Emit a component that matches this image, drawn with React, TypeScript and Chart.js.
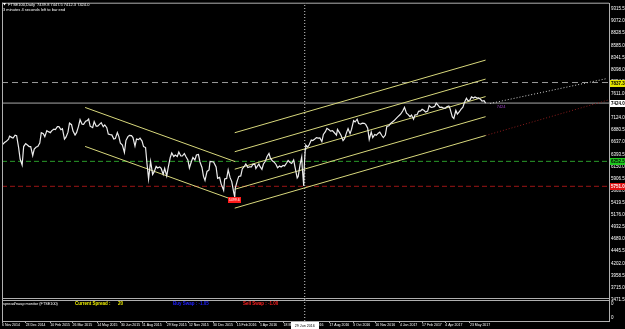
import React, { useEffect, useRef } from 'react';
import { Chart, registerables } from 'chart.js';
Chart.register(...registerables);

// ---------- data ----------
const priceDates: string[] = [
  '2014-11-06','2014-11-11','2014-11-14','2014-11-19','2014-11-21','2014-11-26','2014-11-28',
  '2014-12-02','2014-12-05','2014-12-09','2014-12-12','2014-12-16','2014-12-19','2014-12-23','2014-12-30',
  '2015-01-02','2015-01-06','2015-01-09','2015-01-13','2015-01-16','2015-01-20','2015-01-23','2015-01-27','2015-01-30',
  '2015-02-03','2015-02-06','2015-02-10','2015-02-13','2015-02-17','2015-02-20','2015-02-24','2015-02-27',
  '2015-03-03','2015-03-06','2015-03-10','2015-03-13','2015-03-17','2015-03-20','2015-03-24','2015-03-27','2015-03-31',
  '2015-04-03','2015-04-07','2015-04-10','2015-04-14','2015-04-17','2015-04-21','2015-04-24','2015-04-27','2015-04-30',
  '2015-05-05','2015-05-08','2015-05-12','2015-05-15','2015-05-19','2015-05-22','2015-05-26','2015-05-29',
  '2015-06-02','2015-06-05','2015-06-09','2015-06-12','2015-06-16','2015-06-19','2015-06-23','2015-06-26','2015-06-29',
  '2015-07-03','2015-07-07','2015-07-10','2015-07-14','2015-07-17','2015-07-21','2015-07-24','2015-07-28','2015-07-31',
  '2015-08-04','2015-08-07','2015-08-11','2015-08-14','2015-08-18','2015-08-21','2015-08-24','2015-08-26','2015-08-28',
  '2015-09-01','2015-09-04','2015-09-08','2015-09-11','2015-09-15','2015-09-18','2015-09-22','2015-09-25','2015-09-29',
  '2015-10-02','2015-10-06','2015-10-09','2015-10-13','2015-10-16','2015-10-20','2015-10-23','2015-10-27','2015-10-30',
  '2015-11-03','2015-11-06','2015-11-10','2015-11-13','2015-11-17','2015-11-20','2015-11-24','2015-11-27',
  '2015-12-01','2015-12-04','2015-12-08','2015-12-11','2015-12-14','2015-12-18','2015-12-22','2015-12-24','2015-12-31',
  '2016-01-05','2016-01-08','2016-01-12','2016-01-15','2016-01-20','2016-01-22','2016-01-26','2016-01-29',
  '2016-02-02','2016-02-05','2016-02-09','2016-02-11','2016-02-12','2016-02-16','2016-02-19','2016-02-23','2016-02-26',
  '2016-03-01','2016-03-04','2016-03-08','2016-03-11','2016-03-15','2016-03-18','2016-03-22','2016-03-24','2016-03-30',
  '2016-04-01','2016-04-05','2016-04-08','2016-04-12','2016-04-15','2016-04-19','2016-04-22','2016-04-26','2016-04-29',
  '2016-05-03','2016-05-06','2016-05-10','2016-05-13','2016-05-17','2016-05-20','2016-05-24','2016-05-27','2016-05-31',
  '2016-06-03','2016-06-07','2016-06-10','2016-06-14','2016-06-16','2016-06-20','2016-06-23','2016-06-24','2016-06-27','2016-06-28','2016-06-30',
  '2016-07-01','2016-07-05','2016-07-08','2016-07-12','2016-07-15','2016-07-19','2016-07-22','2016-07-26','2016-07-29',
  '2016-08-02','2016-08-05','2016-08-09','2016-08-12','2016-08-16','2016-08-19','2016-08-23','2016-08-26','2016-08-31',
  '2016-09-02','2016-09-06','2016-09-09','2016-09-13','2016-09-16','2016-09-20','2016-09-23','2016-09-27','2016-09-30',
  '2016-10-04','2016-10-07','2016-10-11','2016-10-14','2016-10-18','2016-10-21','2016-10-25','2016-10-28',
  '2016-11-01','2016-11-04','2016-11-08','2016-11-11','2016-11-15','2016-11-18','2016-11-22','2016-11-25','2016-11-29',
  '2016-12-02','2016-12-06','2016-12-09','2016-12-13','2016-12-16','2016-12-20','2016-12-23','2016-12-30',
  '2017-01-04','2017-01-06','2017-01-10','2017-01-13','2017-01-17','2017-01-20','2017-01-24','2017-01-27','2017-01-31',
  '2017-02-03','2017-02-07','2017-02-10','2017-02-14','2017-02-17','2017-02-21','2017-02-24','2017-02-28',
  '2017-03-03','2017-03-07','2017-03-10','2017-03-14','2017-03-17','2017-03-21','2017-03-24','2017-03-28','2017-03-31',
  '2017-04-04','2017-04-07','2017-04-11','2017-04-13','2017-04-18','2017-04-21','2017-04-25','2017-04-28',
  '2017-05-02','2017-05-05','2017-05-09','2017-05-12','2017-05-16','2017-05-19','2017-05-23','2017-05-26','2017-05-30',
  '2017-06-02','2017-06-06','2017-06-09','2017-06-13','2017-06-16','2017-06-20','2017-06-23',
];
const priceCloses: number[] = [
  6580, 6630, 6650, 6700, 6760, 6730, 6720,
  6780, 6770, 6530, 6300, 6180, 6550, 6610, 6550,
  6550, 6370, 6500, 6540, 6550, 6620, 6830, 6810, 6750,
  6870, 6850, 6830, 6870, 6900, 6890, 6950, 6950,
  6890, 6910, 6700, 6740, 6840, 7020, 6990, 6860, 6780,
  6830, 6960, 7090, 7000, 6995, 7060, 7070, 7104, 6960,
  6930, 7050, 6960, 6960, 7000, 7030, 6950, 6985,
  6930, 6800, 6790, 6785, 6700, 6710, 6830, 6750, 6620,
  6580, 6430, 6670, 6750, 6775, 6770, 6730, 6560, 6700,
  6690, 6720, 6660, 6550, 6530, 6190, 5900, 6080, 6250,
  5990, 6040, 6150, 6120, 6140, 6110, 5990, 6110, 5960,
  6130, 6330, 6420, 6350, 6380, 6350, 6440, 6360, 6360,
  6410, 6350, 6280, 6120, 6250, 6330, 6280, 6380,
  6390, 6240, 6130, 5950, 5870, 6050, 6080, 6250, 6240,
  6140, 5910, 5930, 5800, 5670, 5900, 5910, 6080,
  5920, 5850, 5630, 5537, 5710, 5860, 5950, 5960, 6100,
  6150, 6200, 6130, 6140, 6140, 6190, 6190, 6110, 6200,
  6150, 6090, 6200, 6260, 6345, 6410, 6310, 6260, 6240,
  6190, 6125, 6160, 6140, 6170, 6160, 6220, 6270, 6230,
  6210, 6280, 6120, 5920, 5950, 6200, 6340, 6140, 5760, 6140, 6500,
  6577, 6540, 6590, 6680, 6670, 6700, 6730, 6720, 6724,
  6650, 6793, 6850, 6916, 6890, 6859, 6870, 6838, 6780,
  6895, 6830, 6777, 6670, 6710, 6830, 6910, 6810, 6899,
  7070, 7044, 7100, 7014, 7000, 7020, 7017, 6996,
  6917, 6693, 6843, 6730, 6792, 6775, 6819, 6840, 6772,
  6730, 6780, 6954, 6968, 7011, 7043, 7068, 7142,
  7190, 7210, 7275, 7338, 7220, 7198, 7150, 7184, 7099,
  7188, 7190, 7258, 7268, 7299, 7275, 7243, 7263,
  7374, 7338, 7343, 7357, 7425, 7378, 7336, 7343, 7323,
  7321, 7349, 7365, 7328, 7147, 7114, 7275, 7204,
  7250, 7298, 7342, 7435, 7522, 7471, 7485, 7548, 7526,
  7547, 7525, 7527, 7500, 7464, 7472, 7424,
];

const yTickValues: number[] = [
  9315.5, 9072.0, 8828.5, 8585.0, 8341.5, 8098.0, 7854.5, 7611.0, 7367.5, 7124.0,
  6880.5, 6637.0, 6393.5, 6150.0, 5906.5, 5663.0, 5419.5, 5176.0, 4932.5, 4689.0,
  4445.5, 4202.0, 3958.5, 3715.0, 3471.5,
];
const xTickDates: string[] = [
  '2014-11-06','2014-12-23','2015-02-10','2015-03-26','2015-05-14','2015-06-30','2015-08-11',
  '2015-09-29','2015-11-12','2015-12-30','2016-02-15','2016-04-01','2016-05-18','2016-07-04',
  '2016-08-17','2016-10-03','2016-11-16','2017-01-04','2017-02-17','2017-04-04','2017-05-23',
];
const xTickLabels: string[] = [
  '6 Nov 2014','23 Dec 2014','10 Feb 2015','26 Mar 2015','14 May 2015','30 Jun 2015','11 Aug 2015',
  '29 Sep 2015','12 Nov 2015','30 Dec 2015','15 Feb 2016','1 Apr 2016','18 May 2016','4 Jul 2016',
  '17 Aug 2016','3 Oct 2016','16 Nov 2016','4 Jan 2017','17 Feb 2017','4 Apr 2017','23 May 2017',
];

// channel objects (anchor dates and prices)
const downChannelDates = ['2015-04-20', '2016-02-12'];
const downUpper = [7336, 6247];
const downLower = [6553, 5464];
const upChannelDates = ['2016-02-11', '2017-06-23'];
const upLine1 = [6828, 8288];
const upLine2 = [6446, 7906];
const upLine3 = [6095, 7555];
const upLine4 = [5691, 7151];
const upLine5 = [5312, 6772];
const redRayDates = ['2017-06-23', '2018-02-23'];
const redRay = [6772, 7490];
const whiteRayDates = ['2017-07-02', '2018-02-19'];
const whiteRay = [7416, 7918];

// horizontal levels
const grayLevel = 7837.3;
const bidLevel = 7424.0;
const greenLevel = 6252.5;
const redLevel = 5751.0;
const crossDate = '2016-06-29';
const lowDate = '2016-02-11';
const lowValue = 5537;

const titleText = 'FTSE100,Daily  7439.8 7447.5 7412.3 7424.0';
const timerText = '3 minutes 4 seconds left to bar end';

// ---------- helpers ----------
const ORIGIN = Date.UTC(2014, 10, 6);
const dayOf = (s: string) => {
  const [y, m, d] = s.split('-').map(Number);
  return (Date.UTC(y, m - 1, d) - ORIGIN) / 86400000;
};
const X_MIN = 0;
const X_MAX = 1205;
const Y_MIN = 3043;
const Y_MAX = 9422;
const FONT = "'Liberation Sans', 'DejaVu Sans', sans-serif";

const seg = (dates: string[], vals: number[]) => dates.map((d, i) => ({ x: dayOf(d), y: vals[i] }));
const hline = (v: number) => [{ x: X_MIN, y: v }, { x: X_MAX, y: v }];
const ds = (data: any[], color: string, dash: number[] = [], width = 1) => ({
  data,
  borderColor: color,
  borderWidth: width,
  borderDash: dash,
  pointRadius: 0,
  pointHoverRadius: 0,
  fill: false,
  tension: 0,
});

const CH = '#d8d87c';

const mtPlugin = {
  id: 'mt4look',
  beforeDraw(chart: any) {
    const c = chart.ctx;
    c.save();
    c.fillStyle = '#000';
    c.fillRect(0, 0, chart.width, chart.height);
    c.restore();
  },
  afterDraw(chart: any) {
    const c = chart.ctx;
    const xs = chart.scales.x;
    const ys = chart.scales.y;
    const a = chart.chartArea;
    c.save();
    // frame
    c.strokeStyle = '#b0b0b0';
    c.lineWidth = 1;
    c.beginPath();
    c.moveTo(a.left + 0.5, a.top - 1);
    c.lineTo(a.left + 0.5, a.bottom);
    c.moveTo(a.left, a.top - 0.5);
    c.lineTo(a.right, a.top - 0.5);
    c.moveTo(a.left, 298.5);
    c.lineTo(a.right, 298.5);
    c.moveTo(a.left, 300.5);
    c.lineTo(a.right, 300.5);
    c.stroke();

    // right axis tags
    const tag = (value: number, bg: string, fg: string) => {
      const py = Math.round(ys.getPixelForValue(value));
      c.fillStyle = bg;
      c.fillRect(a.right + 1, py - 3, 16, 7);
      c.fillStyle = fg;
      c.font = `bold 4.5px ${FONT}`;
      c.textBaseline = 'middle';
      c.textAlign = 'left';
      c.fillText(value.toFixed(1), a.right + 2, py + 0.5);
    };
    tag(grayLevel, '#e6e600', '#000');
    tag(bidLevel, '#ffffff', '#000');
    tag(greenLevel, '#1ec81e', '#000');
    tag(redLevel, '#e01010', '#ffffff');

    // sub-window axis labels
    c.fillStyle = '#ffffff';
    c.font = `4.5px ${FONT}`;
    c.textBaseline = 'middle';
    c.fillText('0', a.right + 2, 303.5);
    c.fillText('0', a.right + 2, 317.5);

    // low marker
    const lx = xs.getPixelForValue(dayOf(lowDate));
    const ly = ys.getPixelForValue(lowValue);
    c.fillStyle = '#ff1a1a';
    c.fillRect(Math.round(lx - 7), Math.round(ly), 13, 6);
    c.fillStyle = '#ffffff';
    c.font = `3.5px ${FONT}`;
    c.textAlign = 'center';
    c.fillText('5499.6', lx - 0.5, ly + 3.2);

    // small purple note near last bar
    c.fillStyle = '#a040c8';
    c.font = `4px ${FONT}`;
    c.textAlign = 'left';
    c.fillText('7424', xs.getPixelForValue(dayOf('2017-07-15')), ys.getPixelForValue(bidLevel) + 3.5);

    // crosshair date box
    const vx = xs.getPixelForValue(dayOf(crossDate));
    c.fillStyle = '#ffffff';
    c.fillRect(Math.round(vx - 14), a.bottom + 1, 28, 7);
    c.fillStyle = '#000';
    c.font = `3.6px ${FONT}`;
    c.textAlign = 'center';
    c.fillText('29 Jun 2016', vx, a.bottom + 4.8);

    // header texts
    c.textAlign = 'left';
    c.fillStyle = '#ffffff';
    c.font = `4px ${FONT}`;
    c.beginPath();
    c.moveTo(3, 3);
    c.lineTo(6, 3);
    c.lineTo(4.5, 5.5);
    c.closePath();
    c.fill();
    c.fillText(titleText, 8, 4.5);
    c.fillText(timerText, 3, 9.5);

    // indicator sub-window texts
    c.font = `3.8px ${FONT}`;
    c.fillStyle = '#ffffff';
    c.fillText('spread/swap monitor (FTSE100)', 3, 304);
    c.font = `bold 4.5px ${FONT}`;
    c.fillStyle = '#f0f000';
    c.fillText('Current Spread :', 75, 304);
    c.fillText('20', 118, 304);
    c.fillStyle = '#2020ff';
    c.fillText('Buy Swap : -1.05', 173, 304);
    c.fillStyle = '#ff2020';
    c.fillText('Sell Swap : -1.00', 243, 304);
    c.restore();
  },
};

export default function App() {
  const ref = useRef<HTMLCanvasElement>(null);
  useEffect(() => {
    const canvas = ref.current;
    if (!canvas) return;
    const priceData = priceDates.map((d, i) => ({ x: dayOf(d), y: priceCloses[i] }));
    const cx = dayOf(crossDate);
    const chart = new Chart(canvas, {
      type: 'line',
      data: {
        datasets: [
          ds(priceData, '#ececec', [], 1.2),
          ds(seg(downChannelDates, downUpper), CH),
          ds(seg(downChannelDates, downLower), CH),
          ds(seg(upChannelDates, upLine1), CH),
          ds(seg(upChannelDates, upLine2), CH),
          ds(seg(upChannelDates, upLine3), CH),
          ds(seg(upChannelDates, upLine4), CH),
          ds(seg(upChannelDates, upLine5), CH),
          ds(seg(whiteRayDates, whiteRay), '#d0d0d0', [1, 2]),
          ds(seg(redRayDates, redRay), '#8a1c1c', [1, 2]),
          ds([{ x: cx, y: Y_MIN }, { x: cx, y: Y_MAX }], '#d0d0d0', [1, 2]),
          ds(hline(grayLevel), '#9a9a9a', [6, 4]),
          ds(hline(bidLevel), '#a8a8a8'),
          ds(hline(greenLevel), '#2a9a2a', [5, 3]),
          ds(hline(redLevel), '#9a1414', [5, 3]),
        ] as any,
      },
      options: {
        responsive: false,
        animation: false,
        devicePixelRatio: 1,
        layout: { padding: { left: 2, top: 3, right: 0, bottom: 0 } },
        plugins: { legend: { display: false }, tooltip: { enabled: false } },
        events: [],
        scales: {
          x: {
            type: 'linear',
            min: X_MIN,
            max: X_MAX,
            position: 'bottom',
            afterBuildTicks: (s: any) => {
              s.ticks = xTickDates.map((d) => ({ value: dayOf(d) }));
            },
            afterFit: (s: any) => {
              s.height = 8;
            },
            ticks: {
              autoSkip: false,
              maxRotation: 0,
              minRotation: 0,
              align: 'start',
              padding: 0,
              color: '#ffffff',
              font: { family: FONT, size: 3.5 },
              callback: (_v: any, i: number) => xTickLabels[i],
            },
            grid: { drawOnChartArea: false, drawTicks: true, tickLength: 2, color: '#b0b0b0' },
            border: { display: true, color: '#b0b0b0' },
          },
          y: {
            type: 'linear',
            min: Y_MIN,
            max: Y_MAX,
            position: 'right',
            afterBuildTicks: (s: any) => {
              s.ticks = yTickValues.map((v) => ({ value: v }));
            },
            afterFit: (s: any) => {
              s.width = 16;
            },
            ticks: {
              autoSkip: false,
              padding: 1,
              crossAlign: 'near',
              color: '#ffffff',
              font: { family: FONT, size: 4.5 },
              callback: (v: any) => Number(v).toFixed(1),
            },
            grid: { drawOnChartArea: false, drawTicks: true, tickLength: 1, color: '#b0b0b0' },
            border: { display: true, color: '#b0b0b0' },
          },
        },
      } as any,
      plugins: [mtPlugin],
    });
    return () => chart.destroy();
  }, []);
  return (
    <div style={{ position: 'fixed', left: 0, top: 0, width: 625, height: 329, background: '#000' }}>
      <canvas ref={ref} width={625} height={329} style={{ display: 'block', width: 625, height: 329 }} />
    </div>
  );
}
